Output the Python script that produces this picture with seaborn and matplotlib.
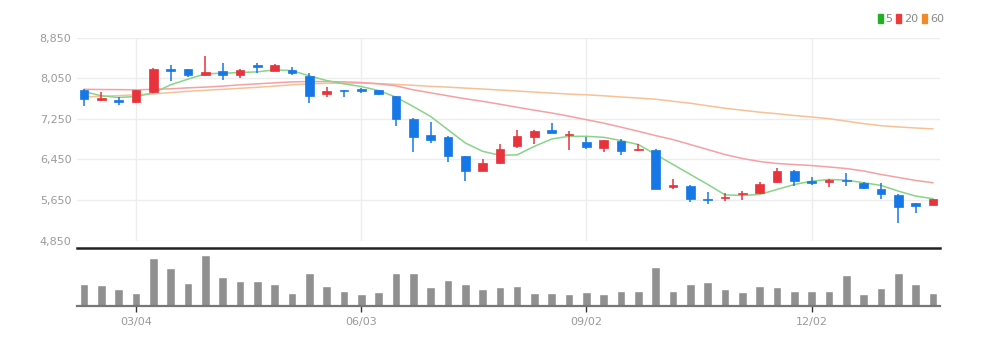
import numpy as np
import pandas as pd
import matplotlib
matplotlib.use("Agg")
import matplotlib.pyplot as plt
import seaborn as sns
from matplotlib.patches import Patch

# ---------------- data (weekly candles) ----------------
opens = [7810, 7627, 7627, 7574, 7778, 8241, 8236, 8118, 8202, 8124,
         8314, 8202, 8216, 8104, 7731, 7817, 7837, 7810, 7692, 7248,
         6934, 6887, 6514, 6220, 6384, 6710, 6895, 7038, 6926, 6797,
         6685, 6809, 6632, 6632, 5900, 5926, 5677, 5690, 5762, 5795,
         6004, 6233, 6023, 6004, 6051, 5991, 5874, 5749, 5599, 5546]
closes = [7647, 7666, 7574, 7810, 8230, 8190, 8124, 8171, 8124, 8216,
          8281, 8308, 8163, 7692, 7798, 7790, 7790, 7731, 7248, 6895,
          6836, 6528, 6220, 6377, 6659, 6907, 7019, 6973, 6953, 6691,
          6829, 6612, 6665, 5860, 5939, 5664, 5650, 5717, 5795, 5972,
          6214, 6023, 5991, 6043, 6017, 5886, 5762, 5513, 5533, 5664]
highs = [7837, 7778, 7680, 7823, 8261, 8308, 8236, 8491, 8347, 8241,
         8359, 8334, 8281, 8151, 7888, 7817, 7857, 7810, 7711, 7261,
         7181, 6920, 6528, 6463, 6763, 7038, 7038, 7169, 7005, 6895,
         6842, 6856, 6763, 6659, 6057, 5939, 5807, 5795, 5827, 6004,
         6286, 6240, 6102, 6057, 6188, 6004, 5978, 5762, 5599, 5664]
lows = [7509, 7594, 7515, 7562, 7758, 8006, 8073, 8098, 8020, 8065,
        8151, 8190, 8112, 7562, 7680, 7680, 7758, 7725, 7117, 6606,
        6777, 6410, 6023, 6220, 6371, 6679, 6750, 6973, 6645, 6659,
        6592, 6547, 6612, 5860, 5860, 5611, 5566, 5631, 5650, 5768,
        5991, 5925, 5952, 5913, 5925, 5874, 5664, 5193, 5389, 5546]
volumes = [217, 210, 167, 133, 477, 377, 233, 510, 293, 247,
           247, 217, 133, 327, 200, 153, 120, 140, 333, 333,
           193, 260, 217, 167, 190, 200, 133, 133, 120, 137,
           117, 153, 147, 387, 153, 217, 240, 167, 143, 200,
           193, 153, 153, 153, 310, 117, 177, 327, 217, 133]
ma5 = [7790, 7705, 7672, 7692, 7759, 7921, 8033, 8137, 8151, 8163,
       8177, 8216, 8202, 8098, 8006, 7941, 7888, 7809, 7680, 7495,
       7299, 7038, 6777, 6612, 6534, 6541, 6710, 6855, 6907, 6907,
       6887, 6822, 6744, 6547, 6351, 6155, 5958, 5752, 5742, 5762,
       5860, 5958, 6023, 6057, 6043, 5992, 5939, 5827, 5729, 5678]
ma20 = [7833, 7829, 7827, 7823, 7833, 7843, 7862, 7876, 7896, 7921,
        7941, 7961, 7980, 7986, 7986, 7980, 7967, 7941, 7902, 7823,
        7764, 7705, 7647, 7597, 7539, 7480, 7421, 7366, 7303, 7234,
        7166, 7087, 7005, 6920, 6842, 6744, 6645, 6547, 6469, 6410,
        6371, 6351, 6331, 6302, 6272, 6223, 6155, 6096, 6037, 5992]
ma60 = [7680, 7696, 7709, 7725, 7745, 7768, 7794, 7813, 7833, 7853,
        7872, 7896, 7921, 7941, 7951, 7955, 7955, 7945, 7931, 7912,
        7892, 7876, 7857, 7839, 7819, 7800, 7778, 7758, 7739, 7725,
        7705, 7682, 7660, 7637, 7597, 7558, 7509, 7460, 7421, 7382,
        7352, 7317, 7287, 7254, 7205, 7156, 7117, 7091, 7071, 7052]
tick_idx = [3, 16, 29, 42]
tick_labels = ["03/04", "06/03", "09/02", "12/02"]
price_ticks = [4850, 5650, 6450, 7250, 8050, 8850]
legend_labels = ["5", "20", "60"]

# ---------------- style ----------------
sns.set_theme(style="white")
plt.rcParams["font.family"] = ["Liberation Sans Narrow", "DejaVu Sans"]

UP = "#e8323c"
DOWN = "#1677e6"
GREY_TXT = "#9a9a9a"
ma_colors = ["#88d488", "#f5a0a4", "#f7c195"]
legend_colors = ["#22b022", "#f03a3a", "#f08a2a"]

n = len(opens)
df = pd.DataFrame({"i": np.arange(n), "open": opens, "close": closes,
                   "high": highs, "low": lows, "vol": volumes,
                   "ma5": ma5, "ma20": ma20, "ma60": ma60})

fig = plt.figure(figsize=(9.94, 3.44), dpi=100)
W, H = 994, 344
ax = fig.add_axes([77 / W, 1 - 240.7 / H, (940 - 77) / W, 203 / H])
axv = fig.add_axes([77 / W, 1 - 306 / H, (940 - 77) / W, 58 / H])

# ---------------- price pane ----------------
for y in price_ticks:
    ax.axhline(y, color="#ededed", lw=1, zorder=0)
for t in tick_idx:
    ax.axvline(t, color="#ededed", lw=1, zorder=0)

for col, c in zip(["ma60", "ma20", "ma5"], [ma_colors[2], ma_colors[1], ma_colors[0]]):
    sns.lineplot(data=df, x="i", y=col, ax=ax, color=c, lw=1.1, zorder=2)

colors = [UP if c >= o else DOWN for o, c in zip(opens, closes)]
ax.vlines(df["i"], df["low"], df["high"], colors=colors, lw=1.1, zorder=3)
body_bottom = np.minimum(df["open"], df["close"])
body_h = np.maximum(np.abs(df["close"] - df["open"]), 22)
ax.bar(df["i"], body_h, bottom=body_bottom, width=0.5, color=colors,
       edgecolor=colors, lw=0.5, zorder=4)

ax.set_xlim(-0.4, n - 0.6)
ax.set_ylim(4850, 8850)
ax.set_yticks(price_ticks)
ax.set_yticklabels([f"{v:,}" for v in price_ticks], color=GREY_TXT, fontsize=8)
ax.tick_params(axis="y", length=0, pad=4)
ax.set_xticks([])
ax.set_xlabel("")
ax.set_ylabel("")
for s in ax.spines.values():
    s.set_visible(False)

# legend
handles = [Patch(facecolor=c, edgecolor=c, label=lab)
           for lab, c in zip(legend_labels, legend_colors)]
leg = fig.legend(handles=handles, loc="upper right", bbox_to_anchor=(944 / W, 1 - 14 / H),
                 ncol=3, frameon=False, fontsize=8, handlelength=0.45, handleheight=0.9,
                 handletextpad=0.25, columnspacing=0.35, borderaxespad=0, borderpad=0)
for t in leg.get_texts():
    t.set_color("#888888")

# ---------------- volume pane ----------------
sns.barplot(data=df, x="i", y="vol", ax=axv, color="#909090", width=0.5,
            saturation=1, native_scale=True)
axv.set_xlim(-0.4, n - 0.6)
axv.set_ylim(0, max(volumes) * 1.14)
axv.set_yticks([])
axv.set_xlabel("")
axv.set_ylabel("")
axv.set_xticks(tick_idx)
axv.set_xticklabels(tick_labels, color=GREY_TXT, fontsize=8)
axv.tick_params(axis="x", length=4, width=1, color="#333333", pad=4, bottom=True)
for k in ["left", "right"]:
    axv.spines[k].set_visible(False)
axv.spines["top"].set_color("#222222")
axv.spines["top"].set_linewidth(1.8)
axv.spines["bottom"].set_color("#777777")
axv.spines["bottom"].set_linewidth(1.6)

fig.savefig("out.png", dpi=100, facecolor="white")
